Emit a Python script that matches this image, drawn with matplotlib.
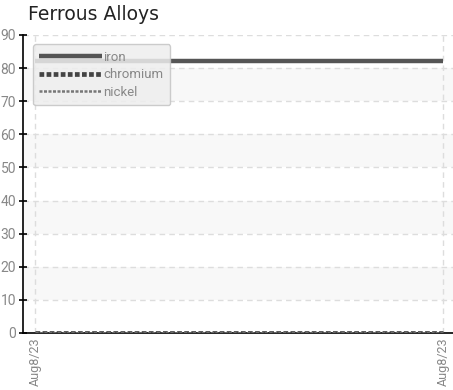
import numpy as np
import matplotlib.pyplot as plt

# data
dates = ["Aug8/23", "Aug8/23"]
iron = [82, 82]
chromium = [0, 0]
nickel = [0, 0]

fig = plt.figure(figsize=(4.53, 3.9), dpi=100)
ax = fig.add_axes([23 / 453, 1 - 333 / 390, 430 / 453, (333 - 35) / 390])

x = np.arange(len(dates))

# alternating light bands
for lo in (10, 30, 50, 70):
    ax.axhspan(lo, lo + 10, color='#f8f8f8', zorder=0, lw=0)

ax.plot(x, iron, color='#555555', lw=3.2, solid_capstyle='butt', label='iron', zorder=3)
ax.plot(x, chromium, color='#444444', lw=3.4, ls=(0, (1, 0.5)), label='chromium', zorder=3)
ax.plot(x, nickel, color='#777777', lw=1.8, ls=(0, (1.2, 0.6)), label='nickel', zorder=3)

ax.set_xlim(-0.0294, 1.0245)
ax.set_ylim(0, 90)
ax.set_yticks(np.arange(0, 91, 10))
ax.set_xticks(x)
ax.set_xticklabels(dates, rotation=90)

fam = ['Roboto', 'DejaVu Sans']
for lab in ax.get_yticklabels():
    lab.set_family(fam)
    lab.set_color('#888888')
    lab.set_fontsize(10)
for lab in ax.get_xticklabels():
    lab.set_family(fam)
    lab.set_color('#888888')
    lab.set_fontsize(9)

ax.tick_params(axis='y', direction='inout', length=6, width=1.2, pad=2)
ax.tick_params(axis='x', length=0, pad=3)

ax.grid(True, ls=(0, (4, 3)), color='#dddddd', lw=1)
ax.set_axisbelow(True)
for s in ('top', 'right'):
    ax.spines[s].set_visible(False)
ax.spines['left'].set_linewidth(1.2)
ax.spines['bottom'].set_linewidth(1.2)

leg = ax.legend(loc='upper left', bbox_to_anchor=(0.023, 0.97), handlelength=4.7,
                handletextpad=0.15, labelspacing=0.35, borderpad=0.5,
                borderaxespad=0, prop={'family': fam, 'size': 9.5}, fancybox=True,
                facecolor='#eeeeee', edgecolor='#c4c4c4', framealpha=0.85)
for t in leg.get_texts():
    t.set_color('#888888')

fig.text(28 / 453, 1 - 15 / 390, 'Ferrous Alloys', fontsize=13.5, va='center', ha='left',
         color='#222222')

fig.savefig('out.png', dpi=100)
